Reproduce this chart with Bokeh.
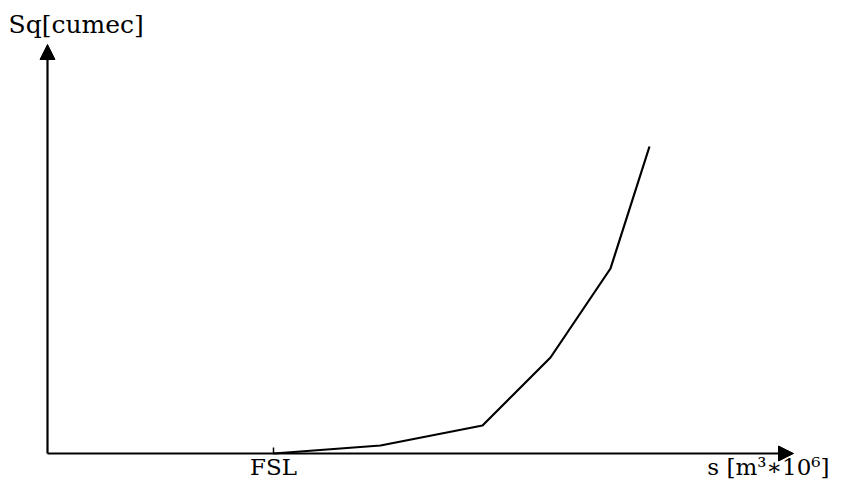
from bokeh.plotting import figure
from bokeh.models import Arrow, NormalHead, Range1d
from bokeh.core.properties import value
from bokeh.embed import file_html
from bokeh.resources import INLINE

# Schematic storage-discharge curve (values in schematic units)
storage = [226, 333, 435, 503, 563, 602]
discharge = [0, 8, 28, 96, 185, 307]
fsl_storage = 226
x_axis_end = 746
y_axis_end = 409
tick_label = "FSL"
y_title = "Sq[cumec]"
x_title = "s [m³∗10⁶]"

FONT = "DejaVu Serif"

p = figure(width=832, height=482, output_backend="svg", toolbar_location=None,
           x_range=Range1d(-47, 785), y_range=Range1d(-29, 453),
           min_border=0)
p.outline_line_color = None
p.grid.visible = False
p.axis.visible = False
p.background_fill_color = "white"
p.border_fill_color = "white"

head = dict(size=15, fill_color="black", line_color="black")
p.add_layout(Arrow(end=NormalHead(**head), x_start=0, y_start=0, x_end=x_axis_end, y_end=0,
                   line_width=2.2, line_color="black"))
p.add_layout(Arrow(end=NormalHead(**head), x_start=0, y_start=0, x_end=0, y_end=y_axis_end,
                   line_width=2.2, line_color="black"))

# FSL tick mark on the storage axis
p.segment(x0=[fsl_storage], y0=[0], x1=[fsl_storage], y1=[6], line_width=1.5, line_color="black")

p.line(storage, discharge, line_width=2.2, line_color="black")

p.text(x=[fsl_storage], y=[-13], text=[tick_label], text_font=value(FONT), text_font_size="23px",
       text_align="center", text_baseline="middle", text_color="black")
p.text(x=[-39], y=[429], text=[y_title], text_font=value(FONT), text_font_size="25px",
       text_align="left", text_baseline="middle", text_color="black")
p.text(x=[782], y=[-13], text=[x_title], text_font=value(FONT), text_font_size="23px",
       text_align="right", text_baseline="middle", text_color="black")

open("out.html", "w").write(file_html(p, INLINE))
